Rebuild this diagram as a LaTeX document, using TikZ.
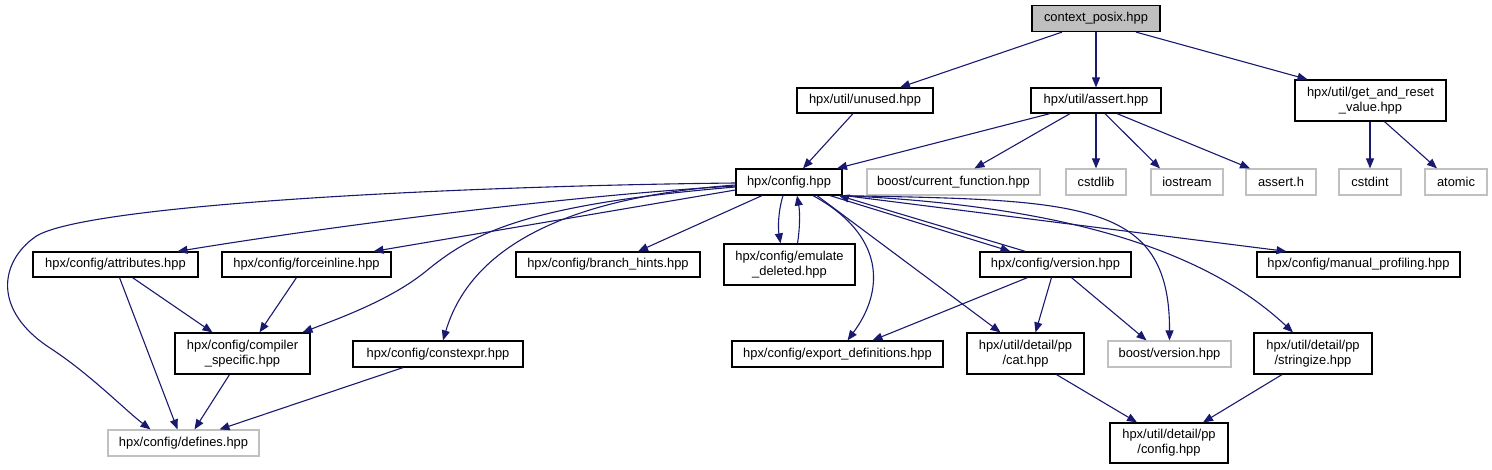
\documentclass[tikz,border=0pt]{standalone}
\usepackage{fontspec}
\setmainfont{Liberation Sans}
\usetikzlibrary{arrows.meta,calc}
\definecolor{edgeblue}{HTML}{191970}
\definecolor{extgray}{HTML}{C0C0C0}
\definecolor{rootgray}{HTML}{BFBFBF}
\begin{document}
\begin{tikzpicture}[x=1pt,y=-1pt, font=\fontsize{12.9}{15}\selectfont,
  box/.style={draw=black, fill=white, line width=1.2pt, inner sep=0pt, align=center},
  ext/.style={box, draw=extgray},
  root/.style={box, fill=rootgray},
  edge/.style={draw=edgeblue, line width=1.1pt, -{Triangle[length=10pt,width=8pt]}}]
\useasboundingbox (0,0) rectangle (1492,469);
% row 0
\node[root, minimum width=128, minimum height=26] (ctx) at (1096,18.5) {context\_posix.hpp};
% row 1
\node[box, minimum width=136, minimum height=25] (unused) at (865,100.5) {hpx/util/unused.hpp};
\node[box, minimum width=130, minimum height=25] (assert) at (1096,100.5) {hpx/util/assert.hpp};
\node[box, minimum width=151, minimum height=41] (gar) at (1370.5,100.5) {hpx/util/get\_and\_reset\\\_value.hpp};
% row 2
\node[box, minimum width=106, minimum height=26] (config) at (789,182) {hpx/config.hpp};
\node[ext, minimum width=173, minimum height=26] (bcf) at (953.5,182) {boost/current\_function.hpp};
\node[ext, minimum width=60, minimum height=26] (cstdlib) at (1096,182) {cstdlib};
\node[ext, minimum width=72, minimum height=26] (iostream) at (1187,182) {iostream};
\node[ext, minimum width=70, minimum height=26] (asserth) at (1281,182) {assert.h};
\node[ext, minimum width=62, minimum height=26] (cstdint) at (1370,182) {cstdint};
\node[ext, minimum width=62, minimum height=26] (atomic) at (1456,182) {atomic};
% row 3
\node[box, minimum width=165, minimum height=25] (attributes) at (115.5,264.5) {hpx/config/attributes.hpp};
\node[box, minimum width=169, minimum height=25] (forceinline) at (306.5,264.5) {hpx/config/forceinline.hpp};
\node[box, minimum width=184, minimum height=25] (branch) at (608,264.5) {hpx/config/branch\_hints.hpp};
\node[box, minimum width=131, minimum height=41] (emulate) at (789.5,264.5) {hpx/config/emulate\\\_deleted.hpp};
\node[box, minimum width=151, minimum height=25] (version) at (1055.5,264.5) {hpx/config/version.hpp};
\node[box, minimum width=203, minimum height=25] (manual) at (1358.5,264.5) {hpx/config/manual\_profiling.hpp};
% row 4
\node[box, minimum width=135, minimum height=41] (compiler) at (242.5,353.5) {hpx/config/compiler\\\_specific.hpp};
\node[box, minimum width=170, minimum height=26] (constexpr) at (438,354) {hpx/config/constexpr.hpp};
\node[box, minimum width=211, minimum height=26] (export) at (837.5,354) {hpx/config/export\_definitions.hpp};
\node[box, minimum width=117, minimum height=41] (cat) at (1025.5,353.5) {hpx/util/detail/pp\\/cat.hpp};
\node[ext, minimum width=123, minimum height=26] (bversion) at (1169.5,354) {boost/version.hpp};
\node[box, minimum width=118, minimum height=41] (stringize) at (1313,353.5) {hpx/util/detail/pp\\/stringize.hpp};
% row 5
\node[ext, minimum width=151, minimum height=26] (defines) at (183.5,443) {hpx/config/defines.hpp};
\node[box, minimum width=118, minimum height=40] (ppconfig) at (1169,443) {hpx/util/detail/pp\\/config.hpp};

% top edges
\draw[edge] ([xshift=-34]ctx.south) -- ([xshift=35]unused.north);
\draw[edge] (ctx.south) -- (assert.north);
\draw[edge] ([xshift=40]ctx.south) -- ([xshift=-63]gar.north);
\draw[edge] ([xshift=-12]unused.south) -- ([xshift=14]config.north);
\draw[edge] ([xshift=-46]assert.south) -- ([xshift=48]config.north);
\draw[edge] ([xshift=-26]assert.south) -- ([xshift=21]bcf.north);
\draw[edge] (assert.south) -- (cstdlib.north);
\draw[edge] ([xshift=9]assert.south) -- ([xshift=-27]iostream.north);
\draw[edge] ([xshift=21]assert.south) -- ([xshift=-31]asserth.north);
\draw[edge] ([xshift=-0.5]gar.south) -- (cstdint.north);
\draw[edge] ([xshift=14]gar.south) -- ([xshift=-19]atomic.north);

% config fan-out (left)
\draw[edge] ([yshift=-1]config.west) .. controls (450,186) and (80,205) .. (35,237)
  .. controls (0,262) and (-8,310) .. (50,348)
  .. controls (90,374) and (125,410) .. ([xshift=-33]defines.north);
\draw[edge] ([yshift=-4]config.west) .. controls (560,196) and (320,228) .. ([xshift=62]attributes.north);
\draw[edge] ([yshift=-8]config.west) -- ([xshift=67]forceinline.north);
\draw[edge] ([yshift=-5]config.west) .. controls (520,205) and (470,235) .. (425,272)
  .. controls (390,300) and (340,318) .. ([xshift=60]compiler.north);
\draw[edge] ([yshift=-3]config.west) .. controls (560,198) and (470,250) .. ([xshift=5]constexpr.north);
\draw[edge] ([xshift=-27]config.south) -- ([xshift=30]branch.north);
\draw[edge] ([xshift=-6]config.south) .. controls (778,212) and (778,228) .. ([xshift=-9]emulate.north);
\draw[edge] ([xshift=8]emulate.north) .. controls (800,228) and (800,212) .. ([xshift=8]config.south);
% config fan-out (right)
\draw[edge] ([xshift=24]config.south) .. controls (885,235) and (885,290) .. ([xshift=10]export.north);
\draw[edge] ([xshift=41]config.south) -- ([xshift=-45]version.north);
\draw[edge] ([xshift=-30]version.north) -- ([xshift=50]config.south);
\draw[edge] ([xshift=28]config.south) -- ([xshift=-25]cat.north);
\draw[edge] ([xshift=-3]config.south east) .. controls (1080,200) and (1170,200) .. (bversion.north);
\draw[edge] (config.south east) .. controls (1050,205) and (1200,245) .. ([xshift=-20]stringize.north);
\draw[edge] ([xshift=2]config.south east) -- ([xshift=-72]manual.north);

% lower edges
\draw[edge] ([xshift=17]attributes.south) -- ([xshift=-30]compiler.north);
\draw[edge] ([xshift=4]attributes.south) -- ([xshift=-6]defines.north);
\draw[edge] ([xshift=-10]forceinline.south) -- ([xshift=17]compiler.north);
\draw[edge] ([xshift=-13]compiler.south) -- ([xshift=11]defines.north);
\draw[edge] ([xshift=-35]constexpr.south) -- ([xshift=36]defines.north);
\draw[edge] ([xshift=-28]version.south) -- ([xshift=35]export.north);
\draw[edge] ([xshift=-4]version.south) -- ([xshift=10]cat.north);
\draw[edge] ([xshift=16]version.south) -- ([xshift=-23]bversion.north);
\draw[edge] ([xshift=31]cat.south) -- ([xshift=-32]ppconfig.north);
\draw[edge] ([xshift=-31]stringize.south) -- ([xshift=34]ppconfig.north);
\end{tikzpicture}
\end{document}
